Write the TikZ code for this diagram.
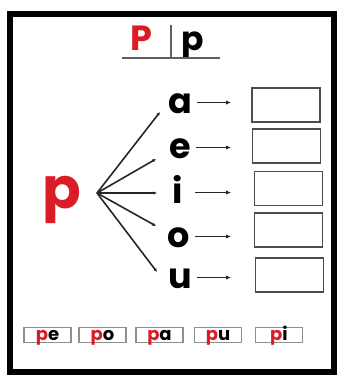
\documentclass[tikz,border=0pt]{standalone}
\usepackage{fontspec}
\setmainfont{Poppins}
\usetikzlibrary{arrows.meta}
\definecolor{letterred}{RGB}{218,28,38}
\definecolor{linegray}{RGB}{95,95,95}
\tikzstyle{vowel} = [font=\fontsize{35}{35}\bfseries\selectfont, text height=21pt, text depth=0pt, inner sep=0pt]
\tikzstyle{answer} = [rectangle, draw=linegray!80!black, line width=1.8pt, minimum width=68pt, minimum height=34pt, inner sep=0pt]
\tikzstyle{syllable} = [rectangle, draw=linegray!70, line width=1.3pt, minimum width=47pt, minimum height=15pt, inner sep=0pt, text height=10pt, text depth=0pt, font=\fontsize{18}{18}\bfseries\selectfont]
\tikzstyle{arrow} = [line width=1.6pt, draw=black!85, -{Latex[length=5pt,width=4.5pt]}]
\tikzstyle{branch} = [line width=1.6pt, draw=black!85, -{Latex[length=3.5pt,width=3.5pt]}]

\begin{document}
\begin{tikzpicture}[x=1pt, y=-1pt]
  \useasboundingbox (0,0) rectangle (338,376);
  % frame
  \draw [line width=6pt] (10.5,13.5) rectangle (333.5,371.5);

  % header
  \node (bigP) [anchor=base, text=letterred, font=\fontsize{35}{35}\bfseries\selectfont, inner sep=0pt] at (141,50) {P};
  \node (smallp) [anchor=base, font=\fontsize{33}{33}\bfseries\selectfont, inner sep=0pt] at (193,50) {p};
  \coordinate (rule-top) at (171,25);
  \coordinate (rule-mid) at (171,58);
  \coordinate (rule-left) at (122,58);
  \coordinate (rule-right) at (220,58);
  \draw [linegray, line width=1.2pt] (rule-top) -- (rule-mid);
  \draw [linegray, line width=1.2pt] (rule-left) -- (rule-right);

  % big p and fan
  \node (p) [anchor=base, text=letterred, font=\fontsize{57}{57}\bfseries\selectfont, inner sep=0pt] at (62,208) {p};
  \coordinate (fan) at (97,193);

  \node (a) [vowel] at (180,102.5) {a};
  \node (e) [vowel] at (180,147.5) {e};
  \node (i) [vowel] at (178,192.5) {i};
  \node (o) [vowel] at (179,236.5) {o};
  \node (u) [vowel] at (180,277.5) {u};

  \coordinate (a-in) at (160,112);
  \coordinate (e-in) at (156,159);
  \coordinate (i-in) at (157,193);
  \coordinate (o-in) at (156,226);
  \coordinate (u-in) at (157,272);

  \draw [branch] (fan) -- (a-in);
  \draw [branch] (fan) -- (e-in);
  \draw [branch] (fan) -- (i-in);
  \draw [branch] (fan) -- (o-in);
  \draw [branch] (fan) -- (u-in);

  % answer boxes
  \node (box-a) [answer] at (286,105) {};
  \node (box-e) [answer] at (286.5,146) {};
  \node (box-i) [answer] at (288.5,188.5) {};
  \node (box-o) [answer] at (288.5,230) {};
  \node (box-u) [answer] at (289.5,275) {};

  \coordinate (a-out) at (231,102.5);
  \coordinate (e-out) at (231,147.5);
  \coordinate (i-out) at (231,192.5);
  \coordinate (o-out) at (231,236.5);
  \coordinate (u-out) at (231,277.5);

  \draw [arrow, shorten <=5pt] (a) -- (a-out);
  \draw [arrow, shorten <=5pt] (e) -- (e-out);
  \draw [arrow, shorten <=5pt] (i.east -| o.east) -- (i-out);
  \draw [arrow, shorten <=5pt] (o) -- (o-out);
  \draw [arrow, shorten <=5pt] (u) -- (u-out);

  % syllables
  \node (pe) [syllable] at (47.5,335) {\textcolor{letterred}{p}e};
  \node (po) [syllable] at (102.5,335) {\textcolor{letterred}{p}o};
  \node (pa) [syllable] at (159.5,335) {\textcolor{letterred}{p}a};
  \node (pu) [syllable] at (218,335) {\textcolor{letterred}{p}u};
  \node (pi) [syllable] at (279,335) {\textcolor{letterred}{p}i};
\end{tikzpicture}
\end{document}
